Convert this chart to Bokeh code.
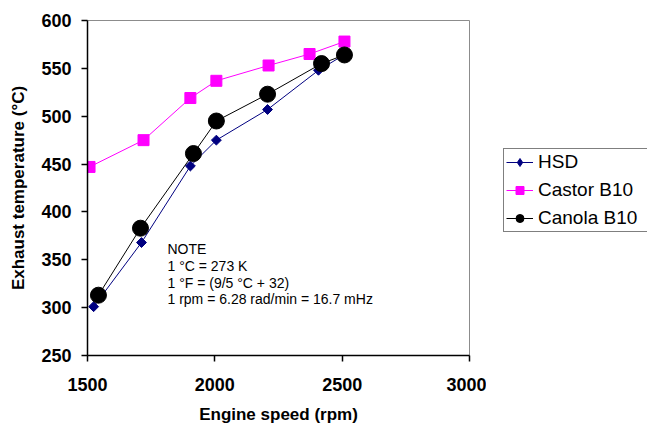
import math
from bokeh.plotting import figure
from bokeh.layouts import row
from bokeh.models import Range1d, Legend, LegendItem, Label, FixedTicker
from bokeh.embed import file_html
from bokeh.resources import INLINE

# data
hsd_x = [1524, 1712, 1904, 2006, 2207, 2407, 2513]
hsd_y = [301, 368, 448, 475, 507, 548, 565]
castor_x = [1508, 1720, 1904, 2006, 2211, 2372, 2509]
castor_y = [447, 475, 519, 537, 553, 565, 578]
canola_x = [1543, 1708, 1916, 2006, 2207, 2419, 2509]
canola_y = [313, 383, 461, 495, 523, 555, 564]
series_names = ["HSD", "Castor B10", "Canola B10"]
x_ticks = [1500, 2000, 2500, 3000]
y_ticks = [250, 300, 350, 400, 450, 500, 550, 600]
note_lines = ["NOTE", "1 °C = 273 K", "1 °F = (9/5 °C + 32)",
              "1 rpm = 6.28 rad/min = 16.7 mHz"]

FONT = "Liberation Sans"
STYLES = [dict(color="#000080", marker="square", angle=math.pi / 4, size=7,
               lmarker="diamond", lsize=11),
          dict(color="#ff00ff", marker="square", angle=0, size=11,
               lmarker="square", lsize=10),
          dict(color="black", marker="circle", angle=0, size=16,
               lmarker="circle", lsize=12)]

p = figure(width=486, height=426, output_backend="svg", toolbar_location=None,
           x_range=Range1d(1500, 3000), y_range=Range1d(250, 600),
           min_border_left=87, min_border_top=20, min_border_right=17,
           min_border_bottom=69)
p.xgrid.visible = False
p.ygrid.visible = False
p.outline_line_color = "#8c8c8c"
p.outline_line_width = 1
p.background_fill_color = "white"
p.border_fill_color = "white"

for ax, ticks in ((p.xaxis[0], x_ticks), (p.yaxis[0], y_ticks)):
    ax.ticker = FixedTicker(ticks=ticks)
    ax.minor_tick_line_color = None
    ax.major_tick_in = 0
    ax.major_tick_out = 6
    ax.axis_line_color = "black"
    ax.axis_line_width = 1.5
    ax.major_tick_line_color = "black"
    ax.major_tick_line_width = 1.5
    ax.major_label_text_font = FONT
    ax.major_label_text_font_style = "bold"
    ax.major_label_text_font_size = "18px"
    ax.major_label_text_color = "black"
    ax.axis_label_text_font = FONT
    ax.axis_label_text_font_style = "bold"
    ax.axis_label_text_font_size = "17px"
    ax.axis_label_text_color = "black"

p.xaxis.axis_label = "Engine speed (rpm)"
p.yaxis.axis_label = "Exhaust temperature (°C)"
p.xaxis.major_label_standoff = 16
p.xaxis.axis_label_standoff = 11
p.yaxis.major_label_standoff = 10
p.yaxis.axis_label_standoff = 10

series = [(hsd_x, hsd_y), (castor_x, castor_y), (canola_x, canola_y)]
for (xs, ys), st in zip(series, STYLES):
    p.line(xs, ys, line_color=st["color"], line_width=1)
    p.scatter(xs, ys, marker=st["marker"], angle=st["angle"], size=st["size"],
              fill_color=st["color"], line_color=st["color"])

note_y = [361, 343.5, 326, 309]
for txt, yy in zip(note_lines, note_y):
    p.add_layout(Label(x=1814, y=yy, text=txt, text_font=FONT,
                       text_font_size="14px", text_color="black",
                       text_baseline="middle"))

# legend panel (its glyphs use the same data, which lies outside this panel's range)
q = figure(width=161, height=426, output_backend="svg", toolbar_location=None,
           x_axis_type=None, y_axis_type=None, x_range=Range1d(0, 1),
           y_range=Range1d(0, 1), min_border=0)
q.outline_line_color = None
q.xgrid.visible = False
q.ygrid.visible = False
q.border_fill_color = "white"
items = []
for name, (xs, ys), st in zip(series_names, series, STYLES):
    lr = q.line(xs, ys, line_color=st["color"], line_width=1)
    mr = q.scatter(xs, ys, marker=st["lmarker"], size=st["lsize"],
                   fill_color=st["color"], line_color=st["color"])
    items.append(LegendItem(label=name, renderers=[lr, mr]))

legend = Legend(items=items, location=(17, 123))
legend.label_text_font = FONT
legend.label_text_font_size = "19px"
legend.label_text_color = "black"
legend.glyph_width = 27
legend.glyph_height = 20
legend.label_width = 136
legend.spacing = 6
legend.padding = 2
legend.margin = 0
legend.label_standoff = 5
legend.border_line_color = "black"
legend.border_line_width = 1
legend.background_fill_color = "white"
legend.background_fill_alpha = 1
q.add_layout(legend, "center")

layout = row(p, q)
open("out.html", "w").write(file_html(layout, INLINE))
